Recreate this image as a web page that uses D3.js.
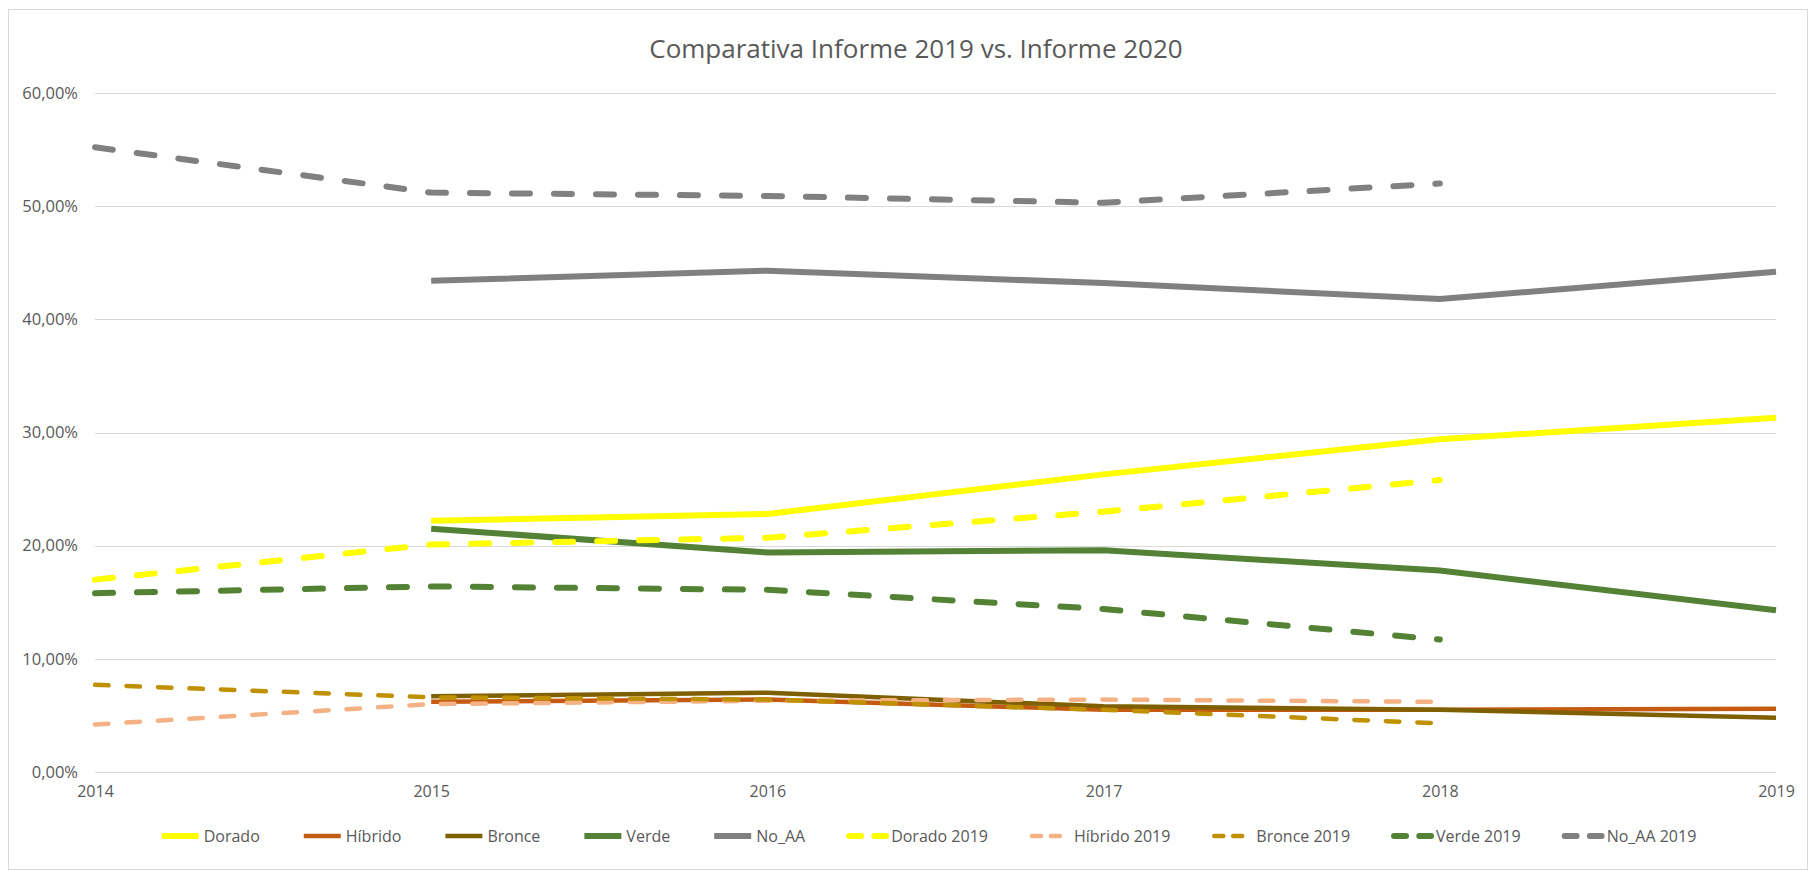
<!DOCTYPE html>
<html>
<head>
<meta charset="utf-8">
<script src="https://cdn.jsdelivr.net/npm/d3@7"></script>
<style>
  html, body { margin: 0; padding: 0; background: #fff; }
  svg { display: block; }
  text { font-family: "Open Sans", "Noto Sans", sans-serif; fill: #595959; }
</style>
</head>
<body>
<svg id="chart" width="1811" height="871"></svg>
<script>
// ---- data ----
const years = ["2014", "2015", "2016", "2017", "2018", "2019"];
const yTickValues = [0, 0.1, 0.2, 0.3, 0.4, 0.5, 0.6];
const seriesNames = ["Dorado", "Híbrido", "Bronce", "Verde", "No_AA",
  "Dorado 2019", "Híbrido 2019", "Bronce 2019", "Verde 2019", "No_AA 2019"];

const dorado      = [null, 0.222, 0.228, 0.263, 0.294, 0.313];
const hibrido     = [null, 0.062, 0.064, 0.055, 0.055, 0.056];
const bronce      = [null, 0.067, 0.070, 0.058, 0.055, 0.048];
const verde       = [null, 0.215, 0.194, 0.196, 0.178, 0.143];
const noAA        = [null, 0.434, 0.443, 0.432, 0.418, 0.442];
const dorado2019  = [0.170, 0.201, 0.207, 0.230, 0.258, null];
const hibrido2019 = [0.042, 0.060, 0.063, 0.064, 0.062, null];
const bronce2019  = [0.077, 0.066, 0.064, 0.055, 0.043, null];
const verde2019   = [0.158, 0.164, 0.161, 0.144, 0.117, null];
const noAA2019    = [0.552, 0.512, 0.509, 0.503, 0.520, null];

const seriesValues = [dorado, hibrido, bronce, verde, noAA,
  dorado2019, hibrido2019, bronce2019, verde2019, noAA2019];

// ---- styles ----
const styles = [
  { color: "#FFFF00", w: 6,   dash: null },
  { color: "#C55A11", w: 4.5, dash: null },
  { color: "#7F6000", w: 4.5, dash: null },
  { color: "#538135", w: 6,   dash: null },
  { color: "#808080", w: 6,   dash: null },
  { color: "#FFFF00", w: 6,   dash: true },
  { color: "#F4B183", w: 4.5, dash: true },
  { color: "#BF9000", w: 4.5, dash: true },
  { color: "#548235", w: 6,   dash: true },
  { color: "#808080", w: 6,   dash: true }
];
function dashArray(s) {
  if (!s.dash) return null;
  return (3 * s.w) + "," + (4 * s.w);
}

const svg = d3.select("#chart");

// chart border
svg.append("rect").attr("x", 8.5).attr("y", 9.5).attr("width", 1799).attr("height", 860)
  .attr("fill", "#fff").attr("stroke", "#D9D9D9").attr("stroke-width", 1);

const x = d3.scalePoint().domain(years).range([95, 1776]);
const y = d3.scaleLinear().domain([0, 0.6]).range([772, 93]);

// gridlines
svg.append("g").selectAll("line").data(yTickValues).join("line")
  .attr("x1", x.range()[0]).attr("x2", x.range()[1])
  .attr("y1", d => Math.round(y(d)) + 0.5).attr("y2", d => Math.round(y(d)) + 0.5)
  .attr("stroke", "#D9D9D9").attr("stroke-width", 1);

// y axis labels
const fmt = d => d3.format(".2f")(d * 100).replace(".", ",") + "%";
const yAxis = d3.axisLeft(y).tickValues(yTickValues).tickFormat(fmt).tickSize(0).tickPadding(0);
const gy = svg.append("g").attr("transform", "translate(78,0)").call(yAxis);
gy.select(".domain").remove();
gy.selectAll("text").style("font-size", "16.5px").attr("fill", "#595959")
  .style("font-family", "'Open Sans', sans-serif");

// x axis labels
const xAxis = d3.axisBottom(x).tickSize(0).tickPadding(0);
const gx = svg.append("g").attr("transform", "translate(0,786)").call(xAxis);
gx.select(".domain").remove();
gx.selectAll("text").style("font-size", "16px").attr("fill", "#595959")
  .style("font-family", "'Open Sans', sans-serif");

// lines
const line = d3.line()
  .defined(d => d.v !== null)
  .x(d => x(d.year))
  .y(d => y(d.v));

seriesValues.forEach((vals, i) => {
  const s = styles[i];
  const pts = years.map((yr, j) => ({ year: yr, v: vals[j] }));
  svg.append("path")
    .datum(pts)
    .attr("d", line)
    .attr("fill", "none")
    .attr("stroke", s.color)
    .attr("stroke-width", s.w)
    .attr("stroke-linejoin", "round")
    .attr("stroke-linecap", s.dash ? "round" : "butt")
    .attr("stroke-dasharray", dashArray(s));
});

// title
svg.append("text")
  .attr("x", 916).attr("y", 58)
  .attr("text-anchor", "middle")
  .style("font-size", "26px")
  .text("Comparativa Informe 2019 vs. Informe 2020");

// legend
const legend = svg.append("g");
const sampleLen = 37, sampleGap = 5, itemGap = 44;
let cx = 0;
seriesNames.forEach((name, i) => {
  const g = legend.append("g");
  const s = styles[i];
  g.append("line").attr("x1", 0).attr("x2", sampleLen).attr("y1", 0).attr("y2", 0)
    .attr("stroke", s.color).attr("stroke-width", s.w)
    .attr("stroke-linecap", s.dash ? "round" : "butt")
    .attr("stroke-dasharray", s.dash ? (s.w * 2) + "," + (s.w * 2.2) : null);
  const t = g.append("text").attr("x", sampleLen + sampleGap).attr("y", 0)
    .attr("dy", "0.35em").style("font-size", "16px").text(name);
  const tw = t.node().getComputedTextLength();
  g.attr("transform", `translate(${cx},0)`);
  cx += sampleLen + sampleGap + tw + itemGap;
});
const total = cx - itemGap;
legend.attr("transform", `translate(${929 - total / 2},836)`);
</script>
</body>
</html>
